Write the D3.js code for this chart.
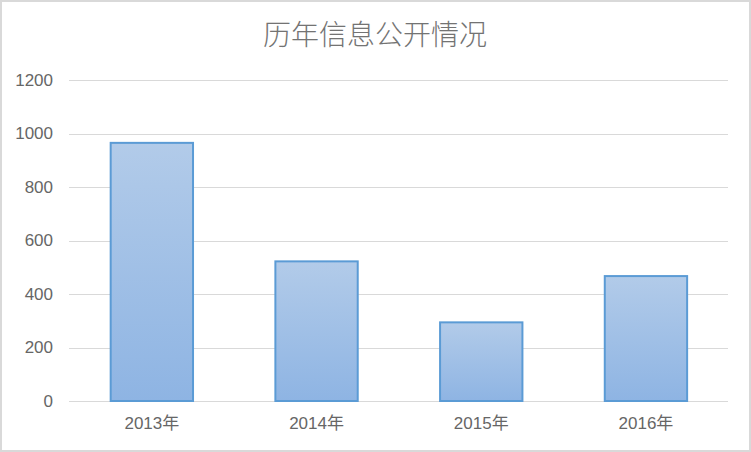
<!DOCTYPE html>
<html><head><meta charset="utf-8">
<script src="https://cdn.jsdelivr.net/npm/d3@7/dist/d3.min.js"></script>
<style>body{margin:0;background:#fff}svg{display:block}</style>
</head><body>
<script>
const title = "历年信息公开情况";
const categories = ["2013年", "2014年", "2015年", "2016年"];
const values = [965, 522, 294, 467];
const yTicks = [0, 200, 400, 600, 800, 1000, 1200];

const W = 751, H = 452;
const svg = d3.select("body").append("svg").attr("width", W).attr("height", H);
const defs = svg.append("defs");
const grad = defs.append("linearGradient").attr("id", "g").attr("x1", 0).attr("y1", 0).attr("x2", 0).attr("y2", 1);
grad.append("stop").attr("offset", "0%").attr("stop-color", "#b2cbe9");
grad.append("stop").attr("offset", "100%").attr("stop-color", "#8eb4e3");

svg.append("rect").attr("x", 1).attr("y", 1).attr("width", W - 2).attr("height", H - 2)
  .attr("fill", "#fff").attr("stroke", "#d9d9d9").attr("stroke-width", 2);

const x = d3.scaleBand().domain(categories).range([69.5, 728.3]).paddingInner(0.5).paddingOuter(0.25);
const y = d3.scaleLinear().domain([0, 1200]).range([401, 80]);

const font = "'Liberation Sans', 'Noto Sans CJK SC', sans-serif";

// grid
svg.append("g").selectAll("line").data(yTicks).join("line")
  .attr("x1", 69).attr("x2", 728).attr("y1", d => Math.round(y(d)) + 0.5).attr("y2", d => Math.round(y(d)) + 0.5)
  .attr("stroke", "#d9d9d9").attr("stroke-width", 1);

// y axis labels
const yAxis = d3.axisLeft(y).tickValues(yTicks).tickFormat(d3.format("d")).tickSize(0).tickPadding(0);
const ya = svg.append("g").attr("transform", "translate(53,0)").call(yAxis);
ya.select(".domain").remove();
ya.selectAll("text").attr("fill", "#666666").style("font-family", font).style("font-size", "17px");

// bars
svg.append("g").selectAll("rect").data(values).join("rect")
  .attr("x", (d, i) => x(categories[i]))
  .attr("width", x.bandwidth())
  .attr("y", d => y(d))
  .attr("height", d => y(0) - y(d))
  .attr("fill", "url(#g)").attr("stroke", "#5b9bd5").attr("stroke-width", 2);

// x axis labels
const xAxis = d3.axisBottom(x).tickSize(0).tickPadding(0);
const xa = svg.append("g").attr("transform", "translate(0,417)").call(xAxis);
xa.select(".domain").remove();
xa.selectAll("text").attr("fill", "#666666").style("font-family", font).style("font-size", "17px");

// title
svg.append("text").attr("x", 375).attr("y", 45).attr("text-anchor", "middle")
  .attr("fill", "#737373").style("font-family", "'Noto Sans CJK SC', sans-serif").style("font-weight", 300).style("font-size", "28px")
  .text(title);
</script>
</body></html>
